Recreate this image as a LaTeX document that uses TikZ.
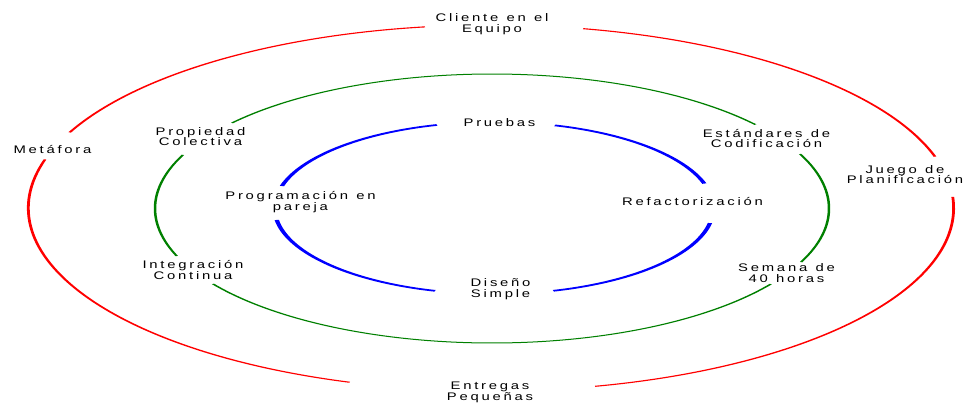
\documentclass[tikz,border=0pt]{standalone}
\usepackage{fontspec}
\setmainfont{Liberation Sans}
\newfontfamily\labelfont[FakeStretch=1.35,LetterSpace=25,WordSpace=1.2]{Liberation Sans}
\begin{document}
\begin{tikzpicture}[x=1pt,y=1pt,
  lbl/.style={font=\labelfont\fontsize{11}{10.8}\selectfont, align=center, inner sep=0pt},
  redring/.style={draw=red, line width=1.1pt},
  greenring/.style={draw={rgb,255:red,0;green,128;blue,0}, line width=1pt},
  bluering/.style={draw=blue, line width=1.7pt}]
\useasboundingbox (0,0) rectangle (965,402);
\fill[white] (0,0) rectangle (965,402);

% outer practices
\node[lbl] (cliente)  at (492,377.5) {Cliente en el\\Equipo};
\node[lbl] (metafora) at (52.5,252.5)      {Metáfora};
\node[lbl] (juego)    at (905,227.5)   {Juego de\\Planificación};
\node[lbl] (entregas) at (490,9.5)   {Entregas\\Pequeñas};

% middle practices
\node[lbl] (propiedad)   at (200.5,265.5)   {Propiedad\\Colectiva};
\node[lbl] (estandares)  at (766.5,263.5)   {Estándares de\\Codificación};
\node[lbl] (integracion) at (193,132) {Integración\\Continua};
\node[lbl] (semana)      at (786.5,129) {Semana de\\40 horas};

% inner practices
\node[lbl] (pruebas)     at (499.5,279.5)   {Pruebas};
\node[lbl] (refactor)    at (692.5,200.5)   {Refactorización};
\node[lbl] (programacion) at (300.5,200) {Programación en\\pareja};
\node[lbl] (diseno)      at (500.5,113) {Diseño\\Simple};

% outer ring: circle stretched into an ellipse (a = 462.6, b = 183)
\begin{scope}[transform canvas={shift={(491pt,194pt)},xscale=2.528}]
  \coordinate (r1) at (98.2:183pt);
  \coordinate (r2) at (164.6:183pt);
  \coordinate (r3) at (283:183pt);
  \coordinate (r4) at (16.3:183pt);
  \draw[redring] (r1) arc[start angle=98.2, end angle=155.6, radius=183pt];
  \draw[redring] (r2) arc[start angle=164.6, end angle=252.2, radius=183pt];
  \draw[redring] (r3) arc[start angle=283, end angle=363.5, radius=183pt];
  \draw[redring] (r4) arc[start angle=16.3, end angle=78.5, radius=183pt];
\end{scope}

% middle ring (a = 337, b = 134.5)
\begin{scope}[transform canvas={shift={(492pt,193.5pt)},xscale=2.5056}]
  \coordinate (g1) at (38.6:134.5pt);
  \coordinate (g2) at (156.5:134.5pt);
  \coordinate (g3) at (214.1:134.5pt);
  \coordinate (g4) at (336.5:134.5pt);
  \draw[greenring] (g1) arc[start angle=38.6, end angle=140.5, radius=134.5pt];
  \draw[greenring] (g2) arc[start angle=156.5, end angle=200.7, radius=134.5pt];
  \draw[greenring] (g3) arc[start angle=214.1, end angle=325.8, radius=134.5pt];
  \draw[greenring] (g4) arc[start angle=336.5, end angle=383.9, radius=134.5pt];
\end{scope}

% inner ring (a = 219.4, b = 86)
\begin{scope}[transform canvas={shift={(494pt,194pt)},xscale=2.551}]
  \coordinate (b1) at (16.5:86pt);
  \coordinate (b2) at (105.1:86pt);
  \coordinate (b3) at (188:86pt);
  \coordinate (b4) at (285.7:86pt);
  \draw[bluering] (b1) arc[start angle=16.5, end angle=73.9, radius=86pt];
  \draw[bluering] (b2) arc[start angle=105.1, end angle=165.2, radius=86pt];
  \draw[bluering] (b3) arc[start angle=188, end angle=254.4, radius=86pt];
  \draw[bluering] (b4) arc[start angle=285.7, end angle=349.9, radius=86pt];
\end{scope}
\end{tikzpicture}
\end{document}
